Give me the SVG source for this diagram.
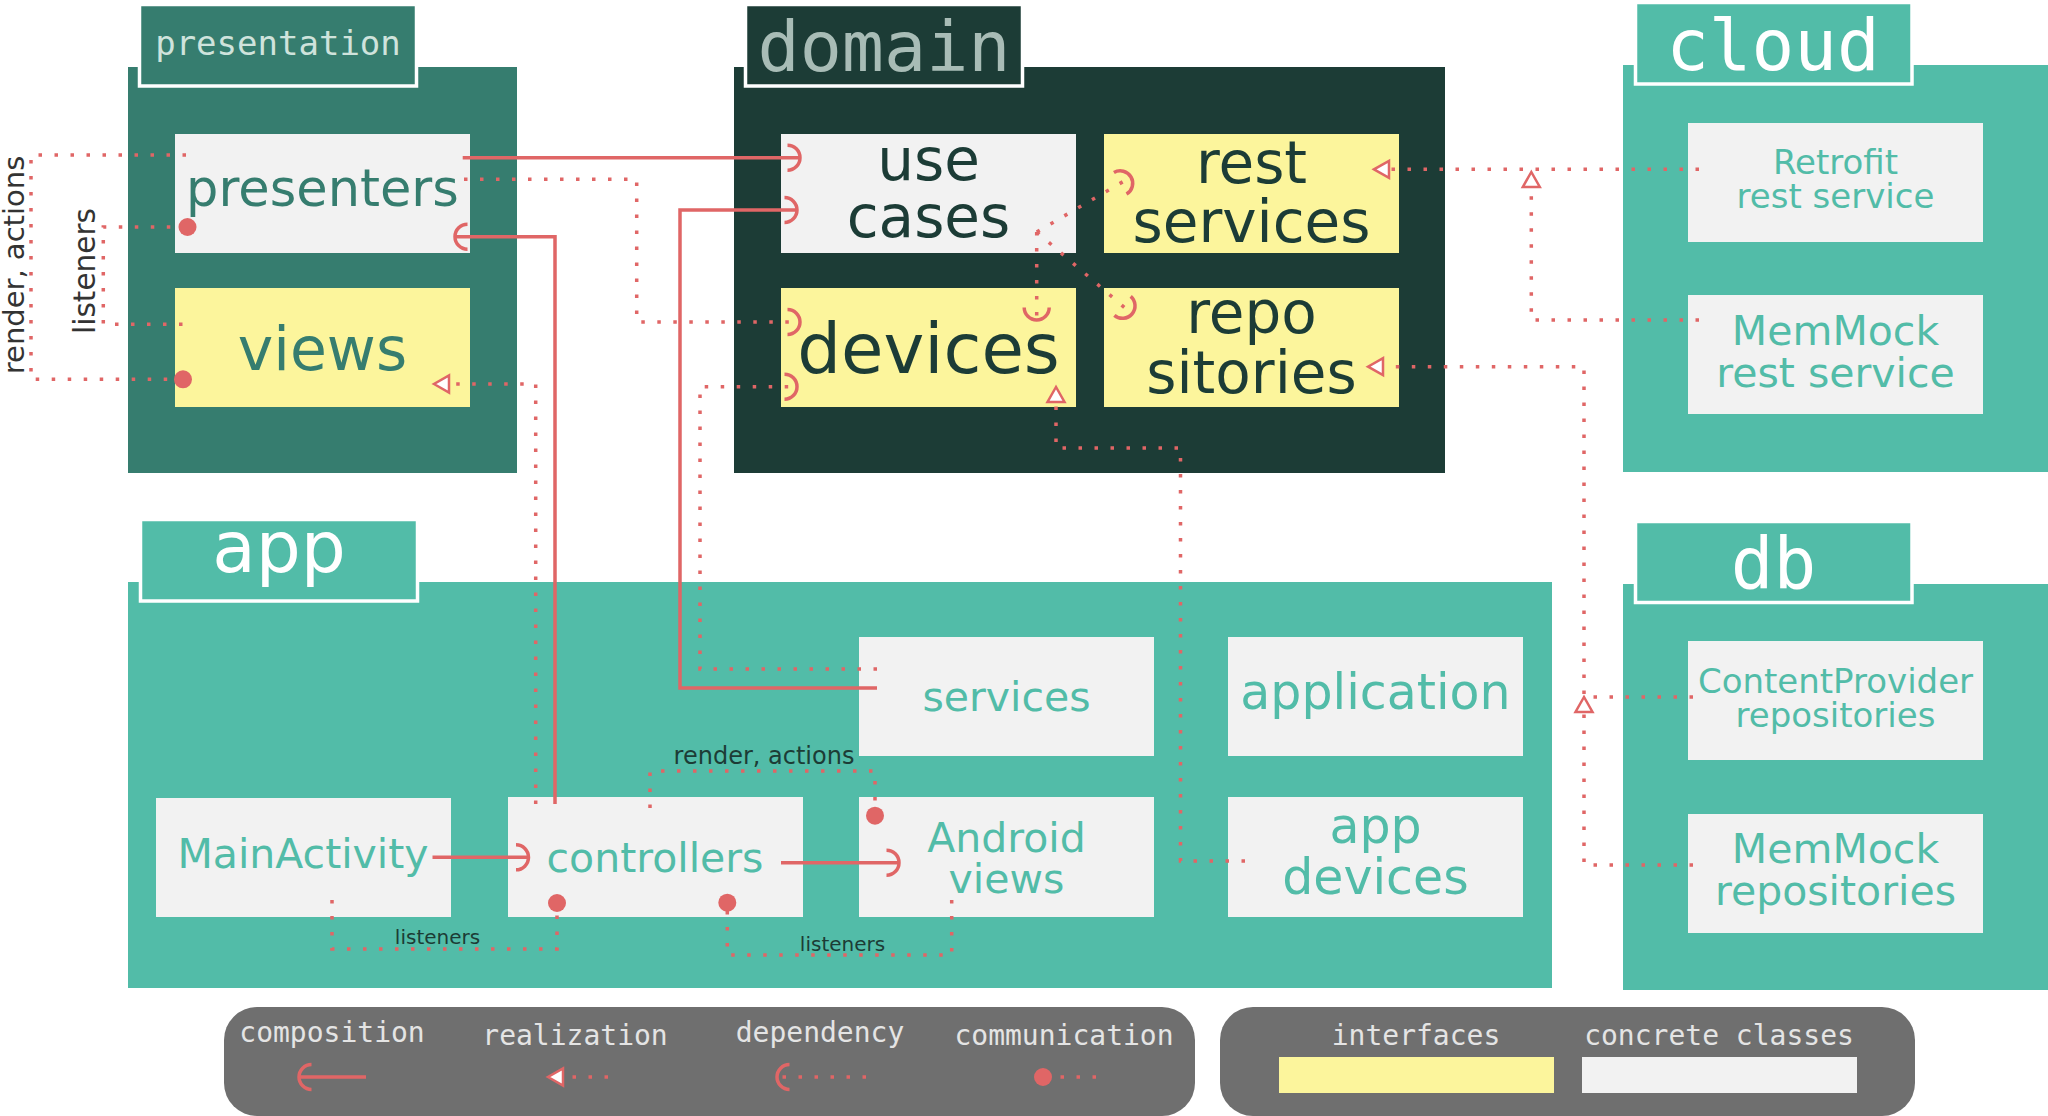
<svg xmlns="http://www.w3.org/2000/svg" width="2048" height="1116" viewBox="0 0 2048 1116">
<style>
.sans{font-family:"DejaVu Sans","Liberation Sans",sans-serif;text-anchor:middle}
.mono{font-family:"DejaVu Sans Mono","Liberation Mono",monospace;text-anchor:middle}
.tab{stroke:#ffffff;stroke-width:3.5}
.cc{fill:#f2f2f2}
.ii{fill:#fcf59c}
.solid{fill:none;stroke:#e06666;stroke-width:3.5}
.dots{fill:none;stroke:#e06666;stroke-width:3.5;stroke-dasharray:3.5 12.5}
.pres{fill:#367d6f}
.dom{fill:#1c3c36}
.teal{fill:#52bca8}
.lbl{fill:#1c3c36}
.leg{fill:#e4e4e4;font-size:28px}
</style>
<defs>
<marker id="arc" markerUnits="userSpaceOnUse" markerWidth="40" markerHeight="40" viewBox="-20 -20 40 40" refX="0" refY="0" orient="auto" overflow="visible">
<path d="M-12.5,-12.5 A12.5,12.5 0 0 1 -12.5,12.5" fill="none" stroke="#e06666" stroke-width="3.5"/>
</marker>
<marker id="tri" markerUnits="userSpaceOnUse" markerWidth="40" markerHeight="40" viewBox="-20 -20 40 40" refX="0" refY="0" orient="auto" overflow="visible">
<path d="M0,0 L-15,-8.5 L-15,8.5 Z" fill="#ffffff" stroke="#e06666" stroke-width="2.5" stroke-linejoin="miter"/>
</marker>
<marker id="dot" markerUnits="userSpaceOnUse" markerWidth="40" markerHeight="40" viewBox="-20 -20 40 40" refX="0" refY="0" orient="auto" overflow="visible">
<circle cx="0" cy="0" r="9" fill="#e06666"/>
</marker>
</defs>
<rect width="2048" height="1116" fill="#ffffff"/>

<g id="pkg-presentation">
<rect x="128" y="67" width="389" height="406" class="pres"/>
<rect x="139.5" y="4.5" width="277" height="81.5" class="pres tab"/>
<text x="278" y="55" class="mono" font-size="34" fill="#cfe3dc">presentation</text>
</g>
<g id="pkg-domain">
<rect x="734" y="67" width="711" height="406" class="dom"/>
<rect x="745.5" y="4.5" width="277" height="81.5" class="dom tab"/>
<text x="884" y="71" class="mono" font-size="70" fill="#a8bcb6">domain</text>
</g>
<g id="pkg-cloud">
<rect x="1623" y="65" width="425" height="407" class="teal"/>
<rect x="1635.5" y="2.5" width="276.5" height="81.5" class="teal tab"/>
<text x="1773" y="70" class="mono" font-size="71" fill="#ffffff">cloud</text>
</g>
<g id="pkg-app">
<rect x="128" y="582" width="1424" height="406" class="teal"/>
<rect x="140.5" y="519.5" width="277" height="81.5" class="teal tab"/>
<text x="279" y="572" class="sans" font-size="71" fill="#ffffff">app</text>
</g>
<g id="pkg-db">
<rect x="1623" y="584" width="425" height="406" class="teal"/>
<rect x="1635.5" y="521.5" width="276.5" height="81" class="teal tab"/>
<text x="1773.5" y="588" class="mono" font-size="71" fill="#ffffff">db</text>
</g>

<g id="presenters">
<rect x="175" y="134" width="295" height="119" class="cc"/>
<text x="322.5" y="206" class="sans" font-size="51" fill="#367d6f">presenters</text>
</g>
<g id="views">
<rect x="175" y="288" width="295" height="119" class="ii"/>
<text x="322.5" y="370" class="sans" font-size="60" fill="#367d6f">views</text>
</g>
<g id="use-cases">
<rect x="781" y="134" width="295" height="119" class="cc"/>
<text class="sans" font-size="58" fill="#1c3c36"><tspan x="928.5" y="180">use</tspan><tspan x="928.5" y="237">cases</tspan></text>
</g>
<g id="rest-services">
<rect x="1104" y="134" width="295" height="119" class="ii"/>
<text class="sans" font-size="58" fill="#1c3c36"><tspan x="1251.5" y="183">rest</tspan><tspan x="1251.5" y="242">services</tspan></text>
</g>
<g id="devices">
<rect x="781" y="288" width="295" height="119" class="ii"/>
<text x="928.5" y="373" class="sans" font-size="69" fill="#1c3c36">devices</text>
</g>
<g id="repositories">
<rect x="1104" y="288" width="295" height="119" class="ii"/>
<text class="sans" font-size="58" fill="#1c3c36"><tspan x="1251.5" y="333">repo</tspan><tspan x="1251.5" y="393">sitories</tspan></text>
</g>
<g id="retrofit-rest-service">
<rect x="1688" y="123" width="295" height="119" class="cc"/>
<text class="sans" font-size="34" fill="#52bca8"><tspan x="1835.5" y="174">Retrofit</tspan><tspan x="1835.5" y="208">rest service</tspan></text>
</g>
<g id="memmock-rest-service">
<rect x="1688" y="295" width="295" height="119" class="cc"/>
<text class="sans" font-size="41" fill="#52bca8"><tspan x="1835.5" y="345">MemMock</tspan><tspan x="1835.5" y="387">rest service</tspan></text>
</g>
<g id="contentprovider-repositories">
<rect x="1688" y="641" width="295" height="119" class="cc"/>
<text class="sans" font-size="34" fill="#52bca8"><tspan x="1835.5" y="693">ContentProvider</tspan><tspan x="1835.5" y="727">repositories</tspan></text>
</g>
<g id="memmock-repositories">
<rect x="1688" y="814" width="295" height="119" class="cc"/>
<text class="sans" font-size="41" fill="#52bca8"><tspan x="1835.5" y="863">MemMock</tspan><tspan x="1835.5" y="905">repositories</tspan></text>
</g>
<g id="mainactivity">
<rect x="156" y="798" width="295" height="119" class="cc"/>
<text x="303" y="868" class="sans" font-size="41" fill="#52bca8">MainActivity</text>
</g>
<g id="controllers">
<rect x="508" y="797" width="295" height="120" class="cc"/>
<text x="655" y="872" class="sans" font-size="41" fill="#52bca8">controllers</text>
</g>
<g id="services">
<rect x="859" y="637" width="295" height="119" class="cc"/>
<text x="1006.5" y="711" class="sans" font-size="41" fill="#52bca8">services</text>
</g>
<g id="android-views">
<rect x="859" y="797" width="295" height="120" class="cc"/>
<text class="sans" font-size="41" fill="#52bca8"><tspan x="1006.5" y="852">Android</tspan><tspan x="1006.5" y="893">views</tspan></text>
</g>
<g id="application">
<rect x="1228" y="637" width="295" height="119" class="cc"/>
<text x="1375.5" y="709" class="sans" font-size="49" fill="#52bca8">application</text>
</g>
<g id="app-devices">
<rect x="1228" y="797" width="295" height="120" class="cc"/>
<text class="sans" font-size="49" fill="#52bca8"><tspan x="1375.5" y="843">app</tspan><tspan x="1375.5" y="894">devices</tspan></text>
</g>

<g id="connectors">
<path class="solid" d="M462.7,157.7 H800" marker-end="url(#arc)"/>
<path class="solid" d="M555,804 V236.7 H455" marker-end="url(#arc)"/>
<path class="solid" d="M877,688 H680 V210 H797" marker-end="url(#arc)"/>
<path class="solid" d="M432.5,857.3 H528.5" marker-end="url(#arc)"/>
<path class="solid" d="M781,862.7 H899" marker-end="url(#arc)"/>

<path class="dots" d="M464,179.3 H636.7 V322 H800" marker-end="url(#arc)"/>
<path class="dots" d="M877,669 H700 V386.7 H797" marker-end="url(#arc)"/>
<path class="dots" d="M1036.7,232 L1131,177" marker-end="url(#arc)"/>
<path class="dots" d="M1036.7,232 V320" marker-end="url(#arc)"/>
<path class="dots" d="M1036.7,232 L1132,314" marker-end="url(#arc)"/>

<path class="dots" d="M535.7,804 V384 H434" marker-end="url(#tri)"/>
<path class="dots" d="M1699,169.3 H1374" marker-end="url(#tri)"/>
<path class="dots" d="M1699,320 H1531.3 V172" marker-end="url(#tri)"/>
<path class="dots" d="M1693,697 H1584 V366.7 H1368" marker-end="url(#tri)"/>
<path class="dots" d="M1693,865 H1584 V697" marker-end="url(#tri)"/>
<path class="dots" d="M1245,861 H1180.5 V448 H1056 V387" marker-end="url(#tri)"/>

<path class="dots" d="M186,155 H31 V379.3 H183" marker-end="url(#dot)"/>
<path class="dots" d="M182.5,324.3 H103.3 V227 H187.5" marker-end="url(#dot)"/>
<path class="dots" d="M650,808 V771 H875 V815.7" marker-end="url(#dot)"/>
<path class="dots" d="M332,900 V949 H557 V903" marker-end="url(#dot)"/>
<path class="dots" d="M951.7,900 V955 H727.3 V902.7" marker-end="url(#dot)"/>

<text transform="translate(24,265) rotate(-90)" class="sans" font-size="29" fill="#333333">render, actions</text>
<text transform="translate(95,271) rotate(-90)" class="sans" font-size="29.5" fill="#333333">listeners</text>
<text x="764" y="764" class="sans" font-size="24" fill="#1c3c36">render, actions</text>
<text x="437.5" y="944" class="sans" font-size="20" fill="#1c3c36">listeners</text>
<text x="842.5" y="950.7" class="sans" font-size="20" fill="#1c3c36">listeners</text>
</g>

<g id="legend-relations">
<rect x="224" y="1007" width="971" height="109" rx="33" fill="#6f6f6f"/>
<text x="332" y="1042" class="mono leg">composition</text>
<text x="575" y="1045" class="mono leg">realization</text>
<text x="820" y="1042" class="mono leg">dependency</text>
<text x="1064" y="1045" class="mono leg">communication</text>
<path class="solid" d="M366,1077 H299" marker-end="url(#arc)"/>
<path class="dots" d="M608,1077 H548" marker-end="url(#tri)"/>
<path class="dots" d="M866,1077 H777" marker-end="url(#arc)"/>
<path class="dots" d="M1096,1077 H1043" marker-end="url(#dot)"/>
</g>
<g id="legend-kinds">
<rect x="1220" y="1007" width="695" height="109" rx="33" fill="#6f6f6f"/>
<text x="1416" y="1045" class="mono leg">interfaces</text>
<text x="1719" y="1045" class="mono leg">concrete classes</text>
<rect x="1279" y="1057" width="275" height="36" class="ii"/>
<rect x="1582" y="1057" width="275" height="36" class="cc"/>
</g>
</svg>
